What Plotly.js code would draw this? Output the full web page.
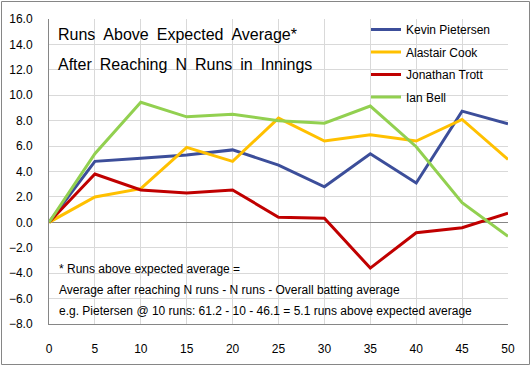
<!DOCTYPE html>
<html>
<head>
<meta charset="utf-8">
<script src="https://cdn.plot.ly/plotly-3.0.1.min.js"></script>
<style>
html,body{margin:0;padding:0;background:#fff;}
#chart{width:532px;height:368px;}
</style>
</head>
<body>
<div id="chart"></div>
<script>
var runsN = [0, 5, 10, 15, 20, 25, 30, 35, 40, 45, 50];
var pietersen = [0, 4.8, 5.05, 5.3, 5.7, 4.5, 2.8, 5.4, 3.1, 8.75, 7.75];
var cook = [0, 2.0, 2.65, 5.9, 4.8, 8.2, 6.4, 6.9, 6.4, 8.1, 4.95];
var trott = [0, 3.8, 2.55, 2.3, 2.55, 0.4, 0.32, -3.6, -0.82, -0.42, 0.72];
var bell = [0, 5.4, 9.45, 8.3, 8.5, 8.0, 7.8, 9.15, 5.95, 1.55, -1.1];
var seriesNames = ["Kevin Pietersen", "Alastair Cook", "Jonathan Trott", "Ian Bell"];
var seriesColors = ["#3C4E9A", "#FFC000", "#C00000", "#92D050"];
var seriesData = [pietersen, cook, trott, bell];
var titleLines = ["Runs Above Expected Average*", "After Reaching N Runs in Innings"];
var noteLines = [
  "* Runs above expected average =",
  "Average after reaching N runs - N runs - Overall batting average",
  "e.g. Pietersen @ 10 runs: 61.2 - 10 - 46.1 = 5.1 runs above expected average"
];

var font = "Liberation Sans, Arial, sans-serif";
var traces = seriesData.map(function (d, i) {
  return {
    x: runsN, y: d, type: "scatter", mode: "lines",
    name: seriesNames[i], legendgroup: "g" + i,
    line: {color: seriesColors[i], width: 3}
  };
});

var PW = 459, PH = 305, L = 49, T = 19;
function px(xp) { return (xp - L) / PW; }
function py(yp) { return (T + PH - yp) / PH; }

var annotations = [];
var titleY = [34, 64];
titleLines.forEach(function (t, i) {
  annotations.push({
    text: t.split(" ").join("\u2002"), xref: "paper", yref: "paper", x: px(56), y: py(titleY[i]),
    xanchor: "left", yanchor: "middle", showarrow: false,
    font: {family: font, size: 16, color: "#000"}
  });
});
var noteY = [269, 290, 311];
noteLines.forEach(function (t, i) {
  annotations.push({
    text: t, xref: "paper", yref: "paper", x: px(57), y: py(noteY[i]),
    xanchor: "left", yanchor: "middle", showarrow: false,
    font: {family: font, size: 12, color: "#000"}
  });
});

var layout = {
  width: 532, height: 368,
  margin: {l: L, r: 532 - L - PW, t: T, b: 368 - T - PH, pad: 0},
  paper_bgcolor: "#fff", plot_bgcolor: "#fff",
  font: {family: font, size: 12, color: "#000"},
  showlegend: true,
  legend: {
    x: px(366), y: py(15), xanchor: "left", yanchor: "top",
    bgcolor: "rgba(255,255,255,0)", borderwidth: 0,
    traceorder: "grouped", tracegroupgap: 3.5,
    font: {family: font, size: 12, color: "#000"}
  },
  xaxis: {
    range: [0, 50], tickmode: "array", tickvals: runsN,
    showgrid: true, gridcolor: "#D9D9D9", gridwidth: 1,
    showline: true, linecolor: "#868686", linewidth: 1, mirror: false,
    zeroline: false, ticks: "outside", ticklen: 14, tickcolor: "rgba(0,0,0,0)",
    tickfont: {family: font, size: 12, color: "#000"}, fixedrange: true
  },
  yaxis: {
    range: [-8, 16], dtick: 2, tick0: 0, tickformat: ".1f",
    showgrid: true, gridcolor: "#D9D9D9", gridwidth: 1,
    showline: true, linecolor: "#868686", linewidth: 1,
    zeroline: true, zerolinecolor: "#868686", zerolinewidth: 1,
    ticks: "outside", ticklen: 13, tickcolor: "rgba(0,0,0,0)",
    tickfont: {family: font, size: 12, color: "#000"}, fixedrange: true
  },
  shapes: [{
    type: "rect", xref: "paper", yref: "paper",
    x0: px(1.5), x1: px(529.5), y0: py(364.5), y1: py(1.5),
    line: {color: "#868686", width: 1}, fillcolor: "rgba(0,0,0,0)", layer: "below"
  }],
  annotations: annotations
};

Plotly.newPlot("chart", traces, layout, {displayModeBar: false, staticPlot: true});
</script>
</body>
</html>
